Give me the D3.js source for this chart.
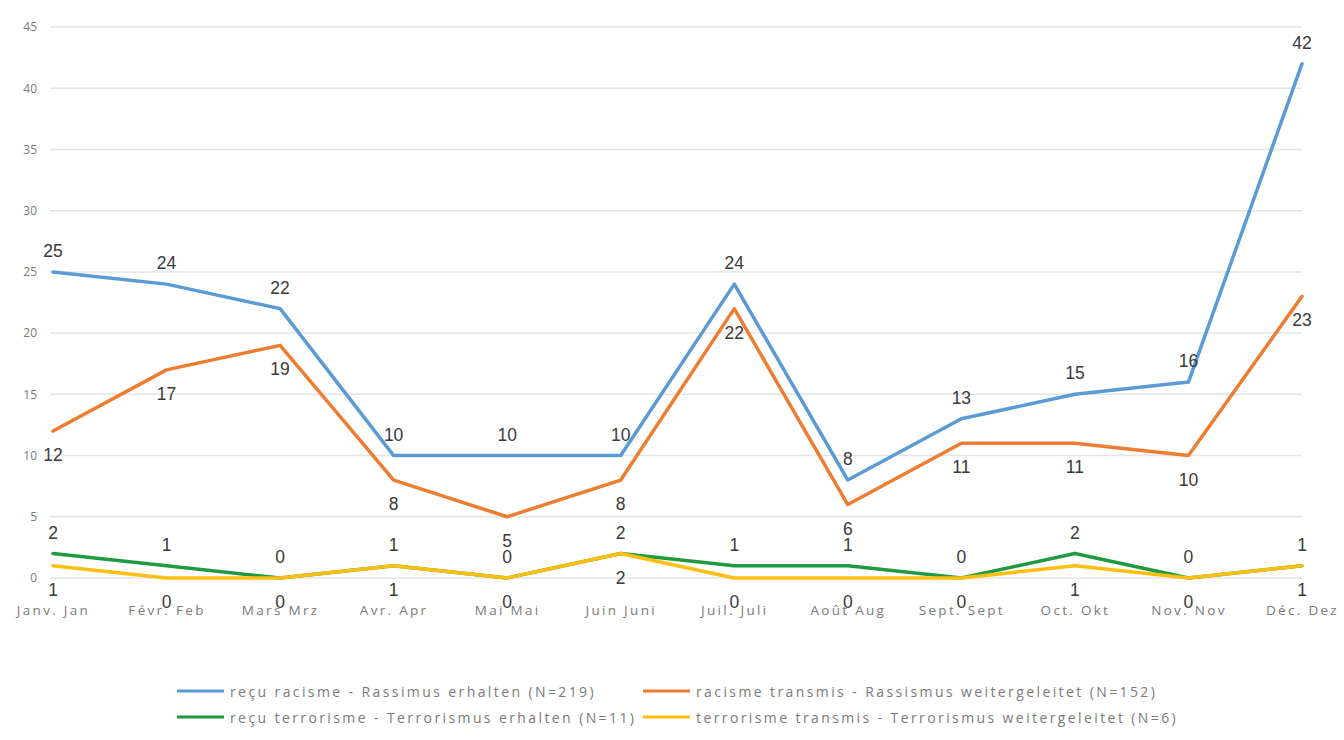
<!DOCTYPE html>
<html>
<head>
<meta charset="utf-8">
<script src="https://cdn.jsdelivr.net/npm/d3@7"></script>
<style>
  html, body { margin: 0; padding: 0; background: #fff; }
  svg { display: block; }
  .tick-y, .tick-x, .legend-text { font-family: "Open Sans", "Liberation Sans", sans-serif; fill: #7a7a7a; }
  .value-label { font-family: "Liberation Sans", Arial, sans-serif; fill: #3a3a3a; }
</style>
</head>
<body>
<svg id="chart" width="1344" height="740"></svg>
<script>
// Months (French / German)
const months = ["Janv. Jan", "Févr. Feb", "Mars Mrz", "Avr. Apr", "Mai Mai", "Juin Juni",
                "Juil. Juli", "Août Aug", "Sept. Sept", "Oct. Okt", "Nov. Nov", "Déc. Dez"];

// Monthly counts per series
const racismReceived    = [25, 24, 22, 10, 10, 10, 24, 8, 13, 15, 16, 42];
const racismForwarded   = [12, 17, 19, 8, 5, 8, 22, 6, 11, 11, 10, 23];
const terrorReceived    = [2, 1, 0, 1, 0, 2, 1, 1, 0, 2, 0, 1];
const terrorForwarded   = [1, 0, 0, 1, 0, 2, 0, 0, 0, 1, 0, 1];

const seriesNames = [
  "reçu racisme - Rassimus erhalten (N=219)",
  "racisme transmis - Rassismus weitergeleitet (N=152)",
  "reçu terrorisme - Terrorismus erhalten (N=11)",
  "terrorisme transmis - Terrorismus weitergeleitet (N=6)"
];
const seriesColors = ["#5b9bd5", "#ed7d31", "#1f9a3f", "#fcbf0f"];

const yTicks = [0, 5, 10, 15, 20, 25, 30, 35, 40, 45];

const series = [
  { name: seriesNames[0], values: racismReceived,  color: seriesColors[0], labelPos: "above" },
  { name: seriesNames[1], values: racismForwarded, color: seriesColors[1], labelPos: "below" },
  { name: seriesNames[2], values: terrorReceived,  color: seriesColors[2], labelPos: "above" },
  { name: seriesNames[3], values: terrorForwarded, color: seriesColors[3], labelPos: "below" }
];

const svg = d3.select("#chart");

const x = d3.scalePoint().domain(months).range([53, 1302]).padding(0);
const y = d3.scaleLinear().domain([0, 45]).range([578, 27]);

// Horizontal gridlines
svg.append("g")
  .selectAll("line")
  .data(yTicks)
  .join("line")
  .attr("x1", 50).attr("x2", 1302)
  .attr("y1", d => y(d)).attr("y2", d => y(d))
  .attr("stroke", "#e4e4e4")
  .attr("stroke-width", 1.5);

// Y axis labels
const yAxis = d3.axisLeft(y).tickValues(yTicks).tickSize(0).tickPadding(0);
const gy = svg.append("g").attr("transform", "translate(37,0)").call(yAxis);
gy.select(".domain").remove();
gy.selectAll("text")
  .attr("class", "tick-y")
  .attr("font-size", 12)
  .attr("fill", "#7a7a7a")
  .style("font-family", null);

// X axis labels
const xAxis = d3.axisBottom(x).tickSize(0).tickPadding(0);
const gx = svg.append("g").attr("transform", "translate(0,605)").call(xAxis);
gx.select(".domain").remove();
gx.selectAll("text")
  .attr("class", "tick-x")
  .attr("font-size", 13.5)
  .attr("letter-spacing", 2.3)
  .attr("fill", "#7a7a7a")
  .style("font-family", null);

// Lines
const line = d3.line()
  .x((d, i) => x(months[i]))
  .y(d => y(d));

svg.append("g")
  .selectAll("path")
  .data(series)
  .join("path")
  .attr("d", d => line(d.values))
  .attr("fill", "none")
  .attr("stroke", d => d.color)
  .attr("stroke-width", 3.5)
  .attr("stroke-linejoin", "round")
  .attr("stroke-linecap", "round");

// Value labels
series.forEach(s => {
  svg.append("g")
    .selectAll("text")
    .data(s.values)
    .join("text")
    .attr("class", "value-label")
    .attr("x", (d, i) => x(months[i]))
    .attr("y", d => y(d) + (s.labelPos === "above" ? -21 : 24))
    .attr("text-anchor", "middle")
    .attr("dominant-baseline", "central")
    .attr("font-size", 17.5)
    .text(d => d);
});

// Legend
const legendItems = [
  { s: series[0], x: 177, y: 691 },
  { s: series[1], x: 643, y: 691 },
  { s: series[2], x: 177, y: 717 },
  { s: series[3], x: 643, y: 717 }
];
const lg = svg.append("g")
  .selectAll("g")
  .data(legendItems)
  .join("g")
  .attr("transform", d => `translate(${d.x},${d.y})`);
lg.append("line")
  .attr("x1", 0).attr("x2", 47)
  .attr("y1", 0).attr("y2", 0)
  .attr("stroke", d => d.s.color)
  .attr("stroke-width", 3);
lg.append("text")
  .attr("class", "legend-text")
  .attr("x", 53)
  .attr("y", 0)
  .attr("dominant-baseline", "central")
  .attr("font-size", 14)
  .attr("letter-spacing", 2.4)
  .text(d => d.s.name);
</script>
</body>
</html>
